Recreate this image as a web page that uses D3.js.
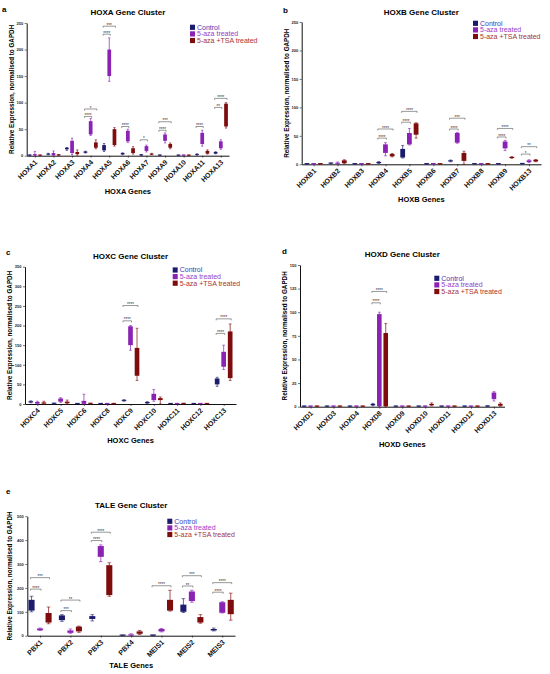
<!DOCTYPE html>
<html>
<head>
<meta charset="utf-8">
<script src="https://cdn.jsdelivr.net/npm/d3@7"></script>
<style>
  body { margin: 0; background: #fff; }
  text { font-family: "Liberation Sans", Arial, sans-serif; }
</style>
</head>
<body>
<div id="chart"></div>
<script>
// each box is [min, q1, q3, max]
var seriesNames = ['Control', '5-aza treated', '5-aza +TSA treated'];

var hoxaGenes = ['HOXA1', 'HOXA2', 'HOXA3', 'HOXA4', 'HOXA5', 'HOXA6', 'HOXA7', 'HOXA9', 'HOXA10', 'HOXA11', 'HOXA13'];
var hoxaControl = [[0, 0.3, 1, 1.5], [1.5, 2, 4, 4.5], [10, 12, 15, 15.5], [5, 5.5, 8, 8.5], [8, 10, 20, 23], [2, 2.5, 5, 5.5],
  [0.5, 0.8, 1.5, 2], [0.2, 0.4, 0.8, 1], [0.2, 0.3, 0.7, 0.9], [1, 1.5, 3, 3.5], [3.5, 4, 7, 7.5]];
var hoxaAza = [[0, 0.5, 3, 8], [0, 1, 5, 9], [2, 5, 28, 33], [38, 40, 65, 70], [140, 150, 200, 222], [25, 27, 47, 50],
  [7, 9, 18, 20], [24, 28, 40, 43], [0.2, 0.4, 0.8, 1], [18, 22, 43, 48], [12, 14, 27, 30]];
var hoxaTsa = [[0.2, 0.3, 0.8, 1], [0.5, 0.8, 1.5, 2], [1, 3, 7, 11], [13, 15, 25, 30], [18, 20, 50, 53], [3, 5, 14, 17],
  [1.5, 2, 4, 4.5], [13, 15, 22, 24], [0.2, 0.3, 0.7, 0.9], [3, 4, 9, 11], [52, 55, 98, 100]];
// [gene, compared series, bracket level, label] - always against Control
var hoxaSig = [['HOXA4', 1, 74, '****'], ['HOXA4', 2, 88, '*'], ['HOXA5', 1, 229, '****'], ['HOXA5', 2, 244, '***'],
  ['HOXA6', 1, 55, '****'], ['HOXA7', 1, 30, '*'], ['HOXA9', 1, 48, '****'], ['HOXA9', 2, 64, '***'],
  ['HOXA11', 1, 55, '****'], ['HOXA13', 1, 91, '**'], ['HOXA13', 2, 108, '****']];

var hoxbGenes = ['HOXB1', 'HOXB2', 'HOXB3', 'HOXB4', 'HOXB5', 'HOXB6', 'HOXB7', 'HOXB8', 'HOXB9', 'HOXB13'];
var hoxbControl = [[0.2, 0.3, 0.7, 0.9], [1, 1.2, 2, 2.5], [0.2, 0.3, 0.7, 0.9], [1.5, 2, 4, 5], [11, 12, 27, 33],
  [0.2, 0.3, 0.7, 0.9], [4.5, 5, 7, 7.5], [0.2, 0.3, 0.7, 0.9], [0.2, 0.3, 0.7, 0.9], [0.5, 0.7, 1.3, 1.5]];
var hoxbAza = [[0.2, 0.3, 0.7, 0.9], [0.5, 1, 2.5, 4], [0.2, 0.3, 0.7, 0.9], [15, 20, 35, 38], [34, 35, 55, 63],
  [0.3, 0.5, 1.2, 1.5], [37, 38, 55, 56], [0.2, 0.3, 0.7, 0.9], [24, 28, 40, 42], [3, 4, 7, 8]];
var hoxbTsa = [[0.2, 0.3, 0.7, 0.9], [1, 2, 7, 8], [0.2, 0.3, 0.7, 0.9], [13, 14, 18, 19], [46, 52, 72, 73],
  [0.2, 0.3, 0.7, 0.9], [0, 6, 20, 23], [0.2, 0.3, 0.7, 0.9], [10.5, 11, 13, 13.5], [4.5, 5, 8, 8.5]];
var hoxbSig = [['HOXB4', 1, 46, '****'], ['HOXB4', 2, 62, '****'], ['HOXB5', 1, 74, '****'], ['HOXB5', 2, 93, '****'],
  ['HOXB7', 1, 62, '****'], ['HOXB7', 2, 81, '***'], ['HOXB9', 1, 48, '****'], ['HOXB9', 2, 63, '****'],
  ['HOXB13', 1, 18, '*'], ['HOXB13', 2, 31, '**']];

var hoxcGenes = ['HOXC4', 'HOXC5', 'HOXC6', 'HOXC8', 'HOXC9', 'HOXC10', 'HOXC11', 'HOXC12', 'HOXC13'];
var hoxcControl = [[3, 4, 7, 8], [0.5, 0.7, 1.5, 2], [0.2, 0.3, 0.8, 1], [0.2, 0.3, 0.8, 1], [7, 8, 10, 11],
  [1.5, 2, 5, 6], [0.2, 0.3, 0.8, 1], [0.2, 0.3, 0.8, 1], [45, 50, 65, 68]];
var hoxcAza = [[0, 1, 5, 7], [4, 6, 14, 16], [0, 0.5, 8, 25], [0.2, 0.3, 0.8, 1], [137, 150, 198, 200],
  [7, 10, 26, 37], [0.2, 0.3, 0.8, 1], [0.2, 0.3, 0.8, 1], [88, 95, 133, 150]];
var hoxcTsa = [[0, 1, 4, 7], [0, 2, 6, 10], [0.3, 0.5, 1.5, 2], [0.2, 0.3, 0.8, 1], [60, 72, 143, 193],
  [0, 10, 15, 18], [0.3, 0.5, 1.2, 1.5], [0.2, 0.3, 0.8, 1], [60, 66, 185, 204]];
var hoxcSig = [['HOXC9', 1, 212, '****'], ['HOXC9', 2, 251, '****'], ['HOXC13', 1, 180, '****'], ['HOXC13', 2, 217, '****']];

var hoxdGenes = ['HOXD1', 'HOXD3', 'HOXD4', 'HOXD8', 'HOXD9', 'HOXD10', 'HOXD11', 'HOXD12', 'HOXD13'];
var hoxdControl = [[0.1, 0.2, 0.5, 0.6], [0.1, 0.2, 0.5, 0.6], [0.1, 0.2, 0.5, 0.6], [1, 1.5, 3, 3.5], [0.1, 0.2, 0.5, 0.6],
  [0.1, 0.2, 0.5, 0.6], [0.1, 0.2, 0.5, 0.6], [0.1, 0.2, 0.5, 0.6], [0.2, 0.3, 0.7, 0.9]];
var hoxdAza = [[0.1, 0.2, 0.5, 0.6], [0.1, 0.2, 0.5, 0.6], [0.1, 0.2, 0.5, 0.6], [0, 0.5, 98, 100], [0.1, 0.2, 0.5, 0.6],
  [0.1, 0.2, 0.5, 0.6], [0.1, 0.2, 0.5, 0.6], [0.1, 0.2, 0.5, 0.6], [6, 8, 15, 16]];
var hoxdTsa = [[0.1, 0.2, 0.5, 0.6], [0.1, 0.2, 0.5, 0.6], [0.1, 0.2, 0.5, 0.6], [0, 0.5, 78, 88], [0.1, 0.2, 0.5, 0.6],
  [1, 1.5, 3, 4], [0.1, 0.2, 0.5, 0.6], [0.1, 0.2, 0.5, 0.6], [0.5, 1, 3, 4]];
var hoxdSig = [['HOXD8', 1, 110, '****'], ['HOXD8', 2, 122, '****']];

var taleGenes = ['PBX1', 'PBX2', 'PBX3', 'PBX4', 'MEIS1', 'MEIS2', 'MEIS3'];
var taleControl = [[100, 105, 150, 165], [60, 65, 85, 88], [62, 70, 82, 88], [0.5, 0.8, 1.5, 2], [0.5, 0.8, 1.5, 2],
  [97, 100, 130, 155], [20, 22, 28, 32]];
var taleAza = [[22, 23, 30, 32], [10, 12, 22, 28], [310, 330, 375, 380], [0.5, 1, 5, 8], [16, 18, 28, 30],
  [140, 145, 185, 190], [95, 96, 140, 142]];
var taleTsa = [[50, 55, 95, 120], [14, 18, 38, 40], [165, 170, 295, 305], [5, 8, 18, 22], [103, 105, 150, 190],
  [52, 55, 78, 88], [65, 90, 150, 178]];
var taleSig = [['PBX1', 1, 195, '****'], ['PBX1', 2, 243, '***'], ['PBX2', 1, 105, '***'], ['PBX2', 2, 149, '**'],
  ['PBX3', 1, 398, '****'], ['PBX3', 2, 433, '****'], ['MEIS1', 2, 209, '****'], ['MEIS2', 1, 208, '**'],
  ['MEIS2', 2, 251, '***'], ['MEIS3', 1, 182, '****'], ['MEIS3', 2, 222, '****']];

var boxColors = ['#1c1c6e', '#8a22b4', '#7e0c0c'];
var legendColors = ['#3c3cb4', '#9a3cc8', '#a83434'];

var svg = d3.select('#chart').append('svg')
  .attr('width', 550)
  .attr('height', 674)
  .style('background', '#fff');

function drawPanel(p) {
  var g = svg.append('g');

  var x = d3.scalePoint().domain(p.genes).range([p.left, p.right]).padding(p.pad);
  var y = d3.scaleLinear().domain([0, p.yMax]).range([p.bottom, p.top]);
  var step = x.step(),
    off = step * 0.28,
    bw = step * 0.2;

  // y axis
  var yAxis = d3.axisLeft(y)
    .tickValues(d3.range(0, p.yMax + 1, p.yStep))
    .tickSize(2)
    .tickSizeOuter(0)
    .tickPadding(1.5);
  var ya = g.append('g').attr('transform', 'translate(' + p.left + ',0)').call(yAxis);
  ya.selectAll('text').style('font-size', '4px').style('font-weight', 'bold').attr('fill', '#222');
  ya.select('.domain').attr('stroke', '#111').attr('stroke-width', 1);
  ya.selectAll('.tick line').attr('stroke', '#111').attr('stroke-width', 0.6);

  // x axis
  var xAxis = d3.axisBottom(x).tickSize(2).tickSizeOuter(0).tickFormat('');
  var xa = g.append('g').attr('transform', 'translate(0,' + p.bottom + ')').call(xAxis);
  xa.select('.domain').attr('stroke', '#111').attr('stroke-width', 1);
  xa.selectAll('.tick line').attr('stroke', '#111').attr('stroke-width', 0.6);

  g.selectAll('.xlab')
    .data(p.genes)
    .enter().append('text')
    .attr('transform', function(d) { return 'translate(' + (x(d) + 3) + ',' + (p.bottom + 7) + ') rotate(-45)'; })
    .attr('text-anchor', 'end')
    .style('font-size', '7px')
    .style('font-weight', 'bold')
    .attr('fill', '#111')
    .text(function(d) { return d; });

  // boxes
  [p.control, p.aza, p.tsa].forEach(function(series, j) {
    var sg = g.append('g');
    var cx = function(i) { return x(p.genes[i]) + (j - 1) * off; };

    sg.selectAll('.whisker')
      .data(series)
      .enter().append('line')
      .attr('x1', function(d, i) { return cx(i); })
      .attr('x2', function(d, i) { return cx(i); })
      .attr('y1', function(d) { return y(d[0]); })
      .attr('y2', function(d) { return y(d[3]); })
      .attr('stroke', boxColors[j])
      .attr('stroke-width', 0.7);

    [0, 3].forEach(function(k) {
      sg.selectAll('.cap' + k)
        .data(series)
        .enter().append('line')
        .attr('x1', function(d, i) { return cx(i) - bw * 0.3; })
        .attr('x2', function(d, i) { return cx(i) + bw * 0.3; })
        .attr('y1', function(d) { return y(d[k]); })
        .attr('y2', function(d) { return y(d[k]); })
        .attr('stroke', boxColors[j])
        .attr('stroke-width', 0.6);
    });

    sg.selectAll('rect')
      .data(series)
      .enter().append('rect')
      .attr('x', function(d, i) { return cx(i) - bw / 2; })
      .attr('width', bw)
      .attr('y', function(d) { return Math.min(y(d[2]), y(d[1]) - 1); })
      .attr('height', function(d) { return Math.max(y(d[1]) - y(d[2]), 1); })
      .attr('fill', boxColors[j]);
  });

  // significance brackets
  var sig = g.selectAll('.sig')
    .data(p.sig)
    .enter().append('g');
  sig.append('path')
    .attr('d', function(d) {
      var x0 = x(d[0]) - off - 1,
        x1 = x(d[0]) + (d[1] - 1) * off + 1,
        yy = y(d[2]);
      return 'M' + x0 + ',' + (yy + 1.5) + 'V' + yy + 'H' + x1 + 'V' + (yy + 1.5);
    })
    .attr('fill', 'none')
    .attr('stroke', '#333')
    .attr('stroke-width', 0.5);
  sig.append('text')
    .attr('x', function(d) { return x(d[0]) + ((d[1] - 1) * off - off) / 2; })
    .attr('y', function(d) { return y(d[2]) + 0.6; })
    .attr('text-anchor', 'middle')
    .style('font-size', '4.5px')
    .attr('fill', '#333')
    .text(function(d) { return d[3]; });

  // titles
  g.append('text')
    .attr('x', p.letterX).attr('y', p.letterY)
    .style('font-size', '8px').style('font-weight', 'bold')
    .text(p.letter);
  g.append('text')
    .attr('x', (p.left + p.right) / 2).attr('y', p.titleY)
    .attr('text-anchor', 'middle')
    .style('font-size', '8px').style('font-weight', 'bold')
    .text(p.title);
  g.append('text')
    .attr('x', (p.left + p.right) / 2).attr('y', p.xTitleY)
    .attr('text-anchor', 'middle')
    .style('font-size', '7.5px').style('font-weight', 'bold')
    .text(p.xTitle);
  g.append('text')
    .attr('transform', 'translate(' + p.yLabelX + ',' + (p.top + p.bottom) / 2 + ') rotate(-90)')
    .attr('text-anchor', 'middle')
    .attr('dy', '0.35em')
    .style('font-size', '6.3px').style('font-weight', 'bold')
    .text('Relative Expression, normalised to GAPDH');

  // legend
  var lg = g.selectAll('.leg')
    .data(seriesNames)
    .enter().append('g')
    .attr('transform', function(d, i) { return 'translate(' + p.legendX + ',' + (p.legendY + i * 6.6) + ')'; });
  lg.append('rect')
    .attr('x', 0).attr('y', -2.6)
    .attr('width', 5).attr('height', 5.2)
    .attr('fill', function(d, i) { return boxColors[i]; });
  lg.append('text')
    .attr('x', 7).attr('y', 0)
    .attr('dy', '0.35em')
    .style('font-size', '7px')
    .attr('fill', function(d, i) { return legendColors[i]; })
    .text(function(d) { return d; });
}

drawPanel({ letter: 'a', title: 'HOXA Gene Cluster', xTitle: 'HOXA Genes',
  genes: hoxaGenes, control: hoxaControl, aza: hoxaAza, tsa: hoxaTsa, sig: hoxaSig,
  yMax: 250, yStep: 50, left: 26.7, right: 229, top: 23, bottom: 155.7, pad: 0.44,
  letterX: 2, letterY: 12, titleY: 14.5, xTitleY: 194, legendX: 190, legendY: 27.3, yLabelX: 11.7 });

drawPanel({ letter: 'b', title: 'HOXB Gene Cluster', xTitle: 'HOXB Genes',
  genes: hoxbGenes, control: hoxbControl, aza: hoxbAza, tsa: hoxbTsa, sig: hoxbSig,
  yMax: 250, yStep: 50, left: 301.7, right: 541, top: 22, bottom: 164.3, pad: 0.5,
  letterX: 283, letterY: 13, titleY: 14.5, xTitleY: 202, legendX: 473, legendY: 23.3, yLabelX: 286.7 });

drawPanel({ letter: 'c', title: 'HOXC Gene Cluster', xTitle: 'HOXC Genes',
  genes: hoxcGenes, control: hoxcControl, aza: hoxcAza, tsa: hoxcTsa, sig: hoxcSig,
  yMax: 350, yStep: 50, left: 25, right: 236, top: 266.7, bottom: 404, pad: 0.53,
  letterX: 6, letterY: 255, titleY: 258.5, xTitleY: 443, legendX: 172.7, legendY: 270, yLabelX: 10 });

drawPanel({ letter: 'd', title: 'HOXD Gene Cluster', xTitle: 'HOXD Genes',
  genes: hoxdGenes, control: hoxdControl, aza: hoxdAza, tsa: hoxdTsa, sig: hoxdSig,
  yMax: 150, yStep: 25, left: 300, right: 504.5, top: 265, bottom: 406.7, pad: 0.46,
  letterX: 282, letterY: 254, titleY: 256.5, xTitleY: 447, legendX: 434.3, legendY: 278.3, yLabelX: 285 });

drawPanel({ letter: 'e', title: 'TALE Gene Cluster', xTitle: 'TALE Genes',
  genes: taleGenes, control: taleControl, aza: taleAza, tsa: taleTsa, sig: taleSig,
  yMax: 500, yStep: 100, left: 27.3, right: 235, top: 516.2, bottom: 635.7, pad: 0.42,
  letterX: 6, letterY: 494, titleY: 508, xTitleY: 668, legendX: 167.3, legendY: 521.3, yLabelX: 10 });
</script>
</body>
</html>
